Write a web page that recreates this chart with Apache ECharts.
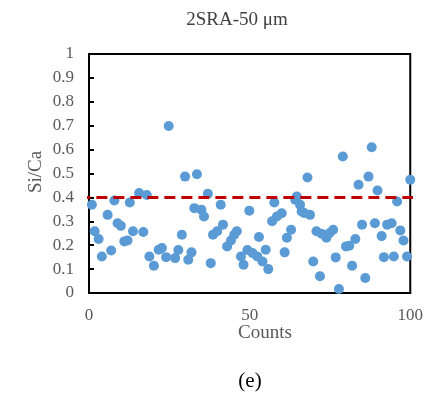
<!DOCTYPE html>
<html>
<head>
<meta charset="utf-8">
<script src="https://cdn.jsdelivr.net/npm/echarts@6/dist/echarts.min.js"></script>
<style>html,body{margin:0;padding:0;background:#fff;}#c{width:426px;height:396px;}</style>
</head>
<body>
<div id="c"></div>
<script>
var countsX = [0.9,1.75,3,4,5.8,6.9,7.9,8.9,9.9,11,12,12.7,13.7,15.6,16.9,18,18.8,20.2,21.7,22.7,24,24.8,26.8,27.8,28.9,29.9,30.9,31.9,32.8,33.6,35,35.8,37,37.9,38.6,39.9,41,41.7,43,44.2,45.2,46,47.3,48.1,49.3,49.9,50.9,52.4,52.9,54,55,55.8,57,57.7,58.5,60,60.9,61.6,62.9,64.2,64.7,65.7,66.2,67,68,68.8,69.8,70.8,71.9,72.4,73.9,74.9,76,76.8,77.8,79,80,81,81.9,82.9,83.9,85,86,87,88,89,89.8,91.1,91.8,92.8,94.2,94.9,95.9,96.9,97.9,99,100];
var siCa = [0.369,0.258,0.226,0.153,0.327,0.178,0.387,0.292,0.281,0.216,0.22,0.379,0.258,0.418,0.255,0.41,0.153,0.114,0.181,0.188,0.15,0.699,0.146,0.18,0.244,0.487,0.139,0.17,0.355,0.497,0.348,0.32,0.415,0.125,0.244,0.258,0.369,0.286,0.195,0.22,0.244,0.258,0.153,0.118,0.18,0.344,0.167,0.153,0.234,0.132,0.181,0.1,0.3,0.379,0.32,0.334,0.17,0.231,0.265,0.39,0.404,0.369,0.341,0.335,0.483,0.327,0.132,0.258,0.07,0.248,0.231,0.251,0.265,0.149,0.017,0.571,0.195,0.198,0.114,0.226,0.453,0.286,0.063,0.487,0.61,0.292,0.429,0.238,0.15,0.286,0.292,0.153,0.383,0.262,0.22,0.153,0.474];
var thresholdX = [-3, 101];
var thresholdY = [0.4, 0.4];
var yTicks = ['0','0.1','0.2','0.3','0.4','0.5','0.6','0.7','0.8','0.9','1'];
var xTicks = ['0','50','100'];

var pts = countsX.map(function(x,i){return [x, siCa[i]];});
var thr = thresholdX.map(function(x,i){return [x, thresholdY[i]];});
var font = '"Liberation Serif", "Times New Roman", serif';
var chart = echarts.init(document.getElementById('c'));
chart.setOption({
  animation:false,
  textStyle:{fontFamily:font},
  grid:{left:89, right:11, top:54, bottom:103, show:true, borderColor:'#000', borderWidth:2},
  xAxis:{type:'value', min:0, max:100, interval:50,
    axisLine:{show:true, lineStyle:{color:'#000', width:2}},
    axisTick:{show:false},
    splitLine:{show:false},
    axisLabel:{fontFamily:font, fontSize:17, color:'#595959', margin:14,
      formatter:function(v){var i=v/50; return xTicks[i]!==undefined?xTicks[i]:'';}}},
  yAxis:{type:'value', min:0, max:1, interval:0.1,
    axisLine:{show:true, lineStyle:{color:'#000', width:2}},
    axisTick:{show:true, inside:true, length:5, lineStyle:{color:'#000', width:2}},
    splitLine:{show:false},
    axisLabel:{fontFamily:font, fontSize:17, color:'#595959', margin:15,
      formatter:function(v){var i=Math.round(v*10); return yTicks[i];}}},
  graphic:[
    {type:'text', style:{x:237, y:20, text:'2SRA-50 μm', font:'19px '+font, fill:'#404040', textAlign:'center', textVerticalAlign:'middle'}},
    {type:'text', x:36, y:172, rotation:Math.PI/2, style:{x:0, y:0, text:'Si/Ca', font:'19px '+font, fill:'#595959', textAlign:'center', textVerticalAlign:'middle'}},
    {type:'text', style:{x:265, y:333, text:'Counts', font:'19px '+font, fill:'#595959', textAlign:'center', textVerticalAlign:'middle'}},
    {type:'text', style:{x:250, y:381, text:'(e)', font:'21px '+font, fill:'#000', textAlign:'center', textVerticalAlign:'middle'}}
  ],
  series:[
    {type:'scatter', data:pts, symbolSize:10, itemStyle:{color:'#5B9BD5', opacity:1}, z:3},
    {type:'line', data:thr, clip:false, symbol:'none', z:4,
      lineStyle:{color:'#C00000', width:3, type:[11,6]}}
  ]
});
</script>
</body>
</html>
